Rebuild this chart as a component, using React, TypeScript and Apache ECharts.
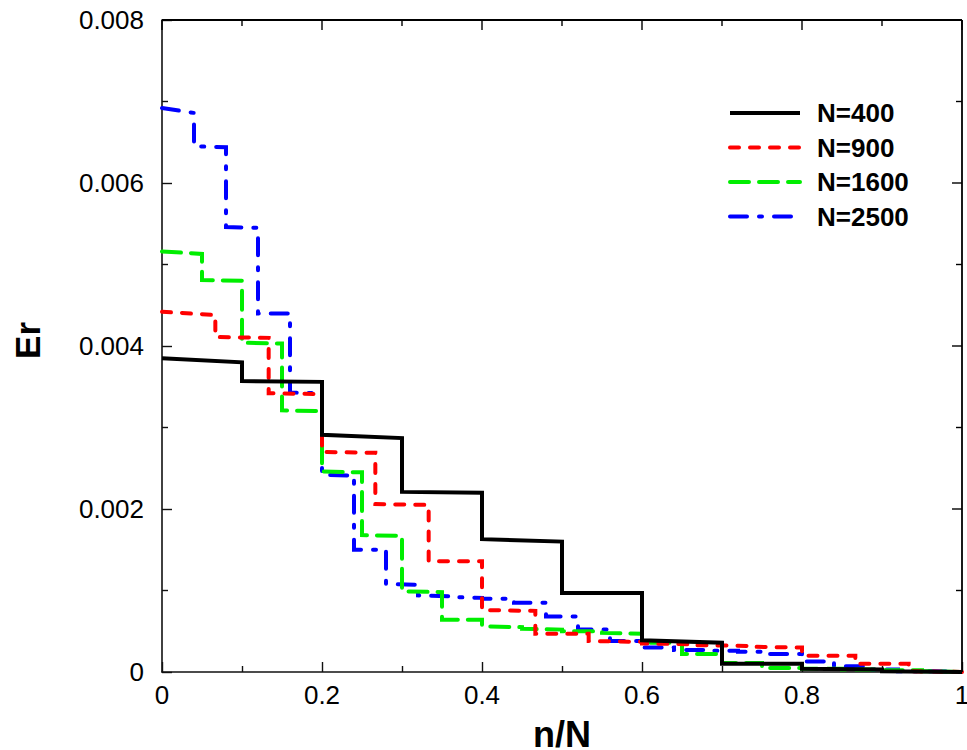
import React, { useEffect, useRef } from "react";
import * as echarts from "echarts";

// Step levels (value at start and end of each step), x runs 0..1 in equal steps
const names = ["N=400", "N=900", "N=1600", "N=2500"];
const colors = ["#000000", "#ff0000", "#00ee00", "#0000ff"];

const n400Start = [0.00385, 0.00357, 0.00291, 0.00221, 0.00163, 0.00097, 0.00039, 0.0001, 0.00004, 0.00001];
const n400End = [0.0038, 0.00356, 0.00287, 0.0022, 0.0016, 0.00097, 0.00036, 0.0001, 0.00003, 0.0];

const n900Start = [0.00442, 0.00411, 0.00342, 0.0027, 0.00206, 0.00136, 0.00076, 0.00047, 0.00038, 0.00035, 0.00033, 0.00031, 0.0002, 0.0001, 0.00001];
const n900End = [0.00438, 0.0041, 0.00341, 0.00269, 0.00205, 0.00136, 0.00075, 0.00047, 0.00037, 0.00034, 0.00032, 0.0003, 0.0002, 0.0001, 0.0];

const n1600Start = [0.00516, 0.00481, 0.00404, 0.00321, 0.00246, 0.00168, 0.00099, 0.00064, 0.00056, 0.00053, 0.0005, 0.00048, 0.00036, 0.00022, 0.00011, 0.00005, 0.00004, 0.00003, 0.00002, 0.00001];
const n1600End = [0.00513, 0.0048, 0.00403, 0.0032, 0.00245, 0.00167, 0.00098, 0.00064, 0.00055, 0.00052, 0.0005, 0.00047, 0.00036, 0.00022, 0.00011, 0.00005, 0.00004, 0.00003, 0.00002, 0.0];

const n2500Start = [0.00692, 0.00645, 0.00546, 0.0044, 0.00343, 0.00242, 0.0015, 0.00108, 0.00094, 0.00092, 0.0009, 0.00085, 0.00068, 0.00052, 0.00038, 0.0003, 0.00027, 0.00026, 0.00025, 0.00022, 0.00013, 0.00007, 0.00003, 0.00001, 0.000005];
const n2500End = [0.00686, 0.00644, 0.00545, 0.0044, 0.00342, 0.00241, 0.0015, 0.00107, 0.00093, 0.00091, 0.0009, 0.00085, 0.00068, 0.00052, 0.00038, 0.0003, 0.00027, 0.00026, 0.00025, 0.00022, 0.00013, 0.00007, 0.00003, 0.00001, 0.0];

const xTicks = [0, 0.2, 0.4, 0.6, 0.8, 1];
const xMinorTicks = [0.1, 0.3, 0.5, 0.7, 0.9];
const yTicks = [0, 0.002, 0.004, 0.006, 0.008];
const yMinorTicks = [0.001, 0.003, 0.005, 0.007];

function buildSteps(starts: number[], ends: number[]): number[][] {
  const n = starts.length;
  const pts: number[][] = [];
  for (let i = 0; i < n; i++) {
    pts.push([i / n, starts[i]]);
    pts.push([(i + 1) / n, ends[i]]);
  }
  return pts;
}

const seriesData = [
  buildSteps(n400Start, n400End),
  buildSteps(n900Start, n900End),
  buildSteps(n1600Start, n1600End),
  buildSteps(n2500Start, n2500End),
];

const dashes: any[] = ["solid", [9, 11], [19, 10], [17, 12, 3, 12]];

const GRID = { left: 162, top: 20, right: 5, bottom: 78 };

export default function App() {
  const ref = useRef<HTMLDivElement>(null);
  useEffect(() => {
    if (!ref.current) return;
    const chart = echarts.init(ref.current, undefined, { renderer: "svg" });
    const axisColor = "#111";
    const mkLine = () => ({ show: true, onZero: false, lineStyle: { color: axisColor, width: 1.6 } });
    const mkTick = () => ({ show: true, inside: true, length: 10, lineStyle: { color: axisColor, width: 1.4 } });
    const mkMinor = () => ({ show: true, splitNumber: 2, length: 6, lineStyle: { color: axisColor, width: 1.4 } });
    const font = "Liberation Sans";
    const lineW = 4;

    const legendItems: any[] = [];
    names.forEach((name, i) => {
      const y = 113 + i * 34.5;
      legendItems.push({
        type: "line",
        shape: { x1: 730, y1: y, x2: 800, y2: y },
        style: {
          stroke: colors[i],
          lineWidth: lineW,
          lineDash: i === 0 ? null : dashes[i],
          lineCap: i === 0 ? "butt" : "round",
        },
        z: 100,
      });
      legendItems.push({
        type: "text",
        x: 817,
        y,
        style: {
          text: name,
          font: `bold 26px '${font}'`,
          fill: "#000",
          textVerticalAlign: "middle",
        },
        z: 100,
      });
    });

    const W = 967;
    const H = 750;
    const xl = GRID.left;
    const yt = GRID.top;
    const xr = W - GRID.right;
    const yb = H - GRID.bottom;

    const edge = (x1: number, y1: number, x2: number, y2: number, w: number) => ({
      type: "line",
      shape: { x1, y1, x2, y2 },
      style: { stroke: "#000000", lineWidth: w, lineDash: null },
      z: 100,
    });

    const frame: any[] = [edge(xl, yt, xr, yt, 1.8), edge(xr, yt, xr, yb, 1.8)];
    const toX = (v: number) => xl + v * (xr - xl);
    const toY = (v: number) => yb - (v / 0.008) * (yb - yt);
    xTicks.concat(xMinorTicks).forEach((v) => {
      const len = xTicks.includes(v) ? 10 : 6;
      const x = toX(v);
      frame.push(edge(x, yt, x, yt + len, 1.4));
    });
    yTicks.concat(yMinorTicks).forEach((v) => {
      const len = yTicks.includes(v) ? 10 : 6;
      const y = toY(v);
      frame.push(edge(xr, y, xr - len, y, 1.4));
    });

    const titles: any[] = [
      {
        type: "text",
        left: 10,
        top: 322,
        rotation: Math.PI / 2,
        style: { text: "Er", font: `bold 35px '${font}'`, fill: "#000" },
      },
      {
        type: "text",
        x: 562,
        y: 734,
        style: {
          text: "n/N",
          font: `bold 36px '${font}'`,
          fill: "#000",
          textAlign: "center",
          textVerticalAlign: "middle",
        },
      },
    ];

    chart.setOption({
      animation: false,
      backgroundColor: "#ffffff",
      grid: {
        left: GRID.left,
        right: GRID.right,
        top: GRID.top,
        bottom: GRID.bottom,
        containLabel: false,
        outerBoundsMode: "none",
      },
      xAxis: {
        type: "value",
        min: 0,
        max: 1,
        interval: 0.2,
        axisLine: mkLine(),
        axisTick: mkTick(),
        minorTick: mkMinor(),
        splitLine: { show: false },
        axisLabel: {
          fontFamily: font,
          fontSize: 26,
          color: "#000",
          margin: 10,
          formatter: (v: number) => {
            const t = xTicks.find((x) => Math.abs(x - v) < 1e-9);
            return t === undefined ? "" : String(t);
          },
        },
      },
      yAxis: {
        type: "value",
        min: 0,
        max: 0.008,
        interval: 0.002,
        axisLine: mkLine(),
        axisTick: mkTick(),
        minorTick: mkMinor(),
        splitLine: { show: false },
        axisLabel: {
          fontFamily: font,
          fontSize: 26,
          color: "#000",
          margin: 18,
          formatter: (v: number) => {
            const t = yTicks.find((y) => Math.abs(y - v) < 1e-12);
            return t === undefined ? "" : String(t);
          },
        },
      },
      series: names.map((name, i) => ({
        name,
        type: "line",
        data: seriesData[i],
        symbol: "none",
        showSymbol: false,
        color: colors[i],
        lineStyle: {
          color: colors[i],
          width: lineW,
          type: dashes[i],
          cap: i === 0 ? "butt" : "round",
          join: "miter",
        },
        z: 10 - i,
      })),
      graphic: [...legendItems, ...titles, ...frame],
    });

    return () => chart.dispose();
  }, []);
  return (
    <div
      ref={ref}
      style={{ position: "fixed", left: 0, top: 0, width: 967, height: 750, background: "#fff" }}
    />
  );
}
